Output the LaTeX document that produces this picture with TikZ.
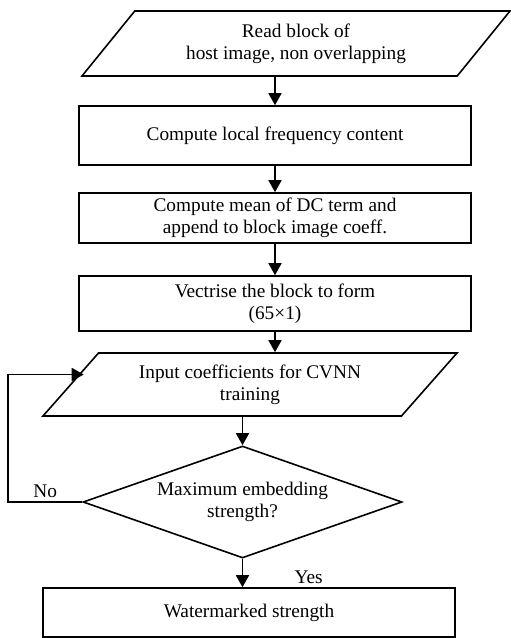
\documentclass[tikz,border=0pt]{standalone}
\usepackage{fontspec}
\setmainfont{Liberation Serif}
\usetikzlibrary{shapes.geometric,arrows.meta}

\begin{document}
\begin{tikzpicture}[x=1pt,y=-1pt,
  every node/.style={font=\fontsize{19.3}{22}\selectfont},
  box/.style={draw,line width=1.6pt,rectangle,inner sep=0pt,align=center,minimum width=392pt},
  iobox/.style={draw,line width=1.6pt,trapezium,trapezium stretches body,inner sep=0pt,align=center},
  decide/.style={draw,line width=1.6pt,diamond,aspect=2.85,inner sep=0pt,align=center},
  arr/.style={line width=1.6pt,-{Triangle[width=13pt,length=12pt]}}]
\useasboundingbox (0,0) rectangle (511,638);

% Flow of steps
\node[iobox,minimum width=428pt,minimum height=65pt,trapezium left angle=37,trapezium right angle=143] (read) at (296,43.5) {Read block of\\host image, non overlapping};
\node[box,minimum height=59pt] (freq) at (275,135.5) {Compute local frequency content};
\node[box,minimum height=50pt] (mean) at (275,218) {Compute mean of DC term and\\append to block image coeff.};
\node[box,minimum height=55pt] (vect) at (275,303.5) {Vectrise the block to form\\(65×1)};
\node[iobox,minimum width=414pt,minimum height=63pt,trapezium left angle=35.6,trapezium right angle=144.4] (input) at (250,384.5) {Input coefficients for CVNN\\training};
\node[decide,minimum width=319pt,minimum height=112pt] (maxq) at (242.5,502) {Maximum embedding\\strength?};
\node[box,minimum width=412pt,minimum height=49pt] (mark) at (249,612.5) {Watermarked strength};

% Arrows
\draw[arr] (freq.north |- read.south) -- (freq.north);
\draw[arr] (freq.south) -- (mean.north);
\draw[arr] (mean.south) -- (vect.north);
\draw[arr] (vect.south) -- (vect.south |- input.north);
\draw[arr] (maxq.north |- input.south) -- (maxq.north);
\draw[arr] (maxq.south) -- node[anchor=west,xshift=48pt,yshift=-4pt] {Yes} (maxq.south |- mark.north);
\draw[arr] (maxq.west) -- node[above] {No} ++(-74,0) |- ([xshift=14pt,yshift=10pt]input.west);
\end{tikzpicture}
\end{document}
